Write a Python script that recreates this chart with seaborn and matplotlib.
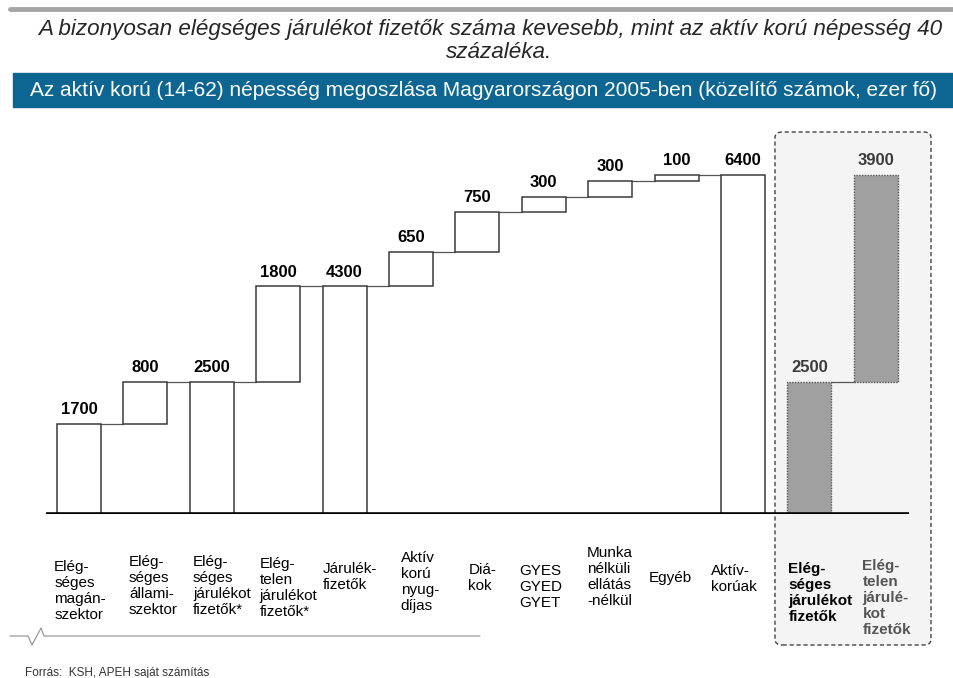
import matplotlib
matplotlib.use('Agg')
import pandas as pd
import matplotlib.pyplot as plt
import seaborn as sns
from matplotlib.patches import FancyBboxPatch, Rectangle
from matplotlib.lines import Line2D

# Adatok (ezer fő)
cimkek = ['Elég-\nséges\nmagán-\nszektor', 'Elég-\nséges\nállami-\nszektor',
          'Elég-\nséges\njárulékot\nfizetők*', 'Elég-\ntelen\njárulékot\nfizetők*',
          'Járulék-\nfizetők', 'Aktív\nkorú\nnyug-\ndíjas', 'Diá-\nkok',
          'GYES\nGYED\nGYET', 'Munka\nnélküli\nellátás\n-nélkül', 'Egyéb',
          'Aktív-\nkorúak', 'Elég-\nséges\njárulékot\nfizetők',
          'Elég-\ntelen\njárulé-\nkot\nfizetők']
ertekek = [1700, 800, 2500, 1800, 4300, 650, 750, 300, 300, 100, 6400, 2500, 3900]
tipus = ['valtozas', 'valtozas', 'osszesen', 'valtozas', 'osszesen', 'valtozas',
         'valtozas', 'valtozas', 'valtozas', 'valtozas', 'osszesen', 'osszesen',
         'valtozas']
csoport = ['fo'] * 11 + ['bontas'] * 2

# Vízesés alapszintek
alap = []
szint = 0
for v, t in zip(ertekek, tipus):
    if t == 'valtozas':
        alap.append(szint)
        szint += v
    else:
        alap.append(0)
        szint = v

df = pd.DataFrame({'pos': range(len(ertekek)), 'ertek': ertekek,
                   'alap': alap, 'csoport': csoport})
df['teteje'] = df['alap'] + df['ertek']

# címkék elhelyezése (képpont eltolás az oszlop közepétől / alapvonaltól)
cimke_dx = [1, 8, 10, 10, 5, 9, 5, -3, 0, -6, -9, 11, 11]
cimke_dy = [77, 72, 72, 74, 63, 68, 64, 73, 63, 64, 65, 79, 84]

sns.set_theme(style='white')
plt.rcParams['font.family'] = ['Liberation Sans', 'DejaVu Sans']

W, H = 954, 678
fig = plt.figure(figsize=(W / 100, H / 100), dpi=100)


def fx(x):
    return x / W


def fy(y):
    return 1 - y / H


ax = fig.add_axes([fx(45.8), fy(514), fx(909) - fx(45.8), (514 - 143.6) / H])
ax.set_facecolor('none')

# szaggatott keret a bontáshoz
keret = FancyBboxPatch((fx(775), fy(645)), fx(931) - fx(775), (645 - 132) / H,
                       boxstyle='round,pad=0,rounding_size=0.008',
                       transform=fig.transFigure, clip_on=False,
                       facecolor='#f4f4f4', edgecolor='#444444',
                       linestyle=(0, (3, 2)), linewidth=1.0, zorder=0)
ax.add_patch(keret)

fo = df[df['csoport'] == 'fo']
sns.barplot(data=fo, x='pos', y='ertek', bottom=fo['alap'].tolist(),
            native_scale=True, orient='x', width=0.66, color='white',
            saturation=1, edgecolor='#3a3a3a', linewidth=1.1,
            errorbar=None, ax=ax, zorder=2)
bontas = df[df['csoport'] == 'bontas']
sns.barplot(data=bontas, x='pos', y='ertek', bottom=bontas['alap'].tolist(),
            native_scale=True, orient='x', width=0.66, color='#a0a0a0',
            saturation=1, edgecolor='#555555', linewidth=1.0,
            linestyle=(0, (1, 1)), errorbar=None, ax=ax, zorder=2)

# összekötő vonalak
for i in range(len(df) - 1):
    if df['csoport'][i] != df['csoport'][i + 1]:
        continue
    ax.plot([i + 0.33, i + 1 - 0.33], [df['teteje'][i]] * 2,
            color='#555555', lw=0.9, zorder=1)

# alapvonal
ax.axhline(0, color='black', lw=2.6, zorder=3)

# értékcímkék
for i, row in df.iterrows():
    szin = 'black' if row['csoport'] == 'fo' else '#3a3a3a'
    ax.annotate(f"{row['ertek']}", xy=(row['pos'], row['teteje']),
                xytext=(0, 5), textcoords='offset points', ha='center',
                va='bottom', fontsize=12, fontweight='bold', color=szin)

# kategóriacímkék
for i, c in enumerate(cimkek):
    kw = dict(fontsize=11, color='black')
    if csoport[i] == 'bontas':
        kw['fontweight'] = 'bold'
        kw['color'] = 'black' if i == 11 else '#555555'
    ax.annotate(c, xy=(i, 0), xytext=(cimke_dx[i] * 0.72, -cimke_dy[i] * 0.72),
                textcoords='offset points', ha='center', va='center',
                multialignment='left', linespacing=1.2,
                annotation_clip=False, **kw)

ax.set_xlim(-0.5, 12.5)
ax.set_ylim(0, 7000)
ax.set_xticks([])
ax.set_yticks([])
ax.set_xlabel('')
ax.set_ylabel('')
sns.despine(ax=ax, left=True, bottom=True)

# fejléc
fig.add_artist(Line2D([fx(10), fx(954)], [fy(9), fy(9)], color='#a5a5a5',
                      lw=3.5, transform=fig.transFigure))
fig.text(fx(490), fy(30), 'A bizonyosan elégséges járulékot fizetők száma kevesebb, '
         'mint az aktív korú népesség 40', ha='center', va='center',
         fontsize=16.2, style='italic')
fig.text(fx(499), fy(52), 'százaléka.', ha='center', va='center',
         fontsize=16.2, style='italic')
fig.add_artist(Rectangle((fx(13), fy(107)), 1 - fx(13), (107 - 73) / H,
                         transform=fig.transFigure, color='#0d6591'))
fig.text(fx(30), fy(90), 'Az aktív korú (14-62) népesség megoszlása Magyarországon '
         '2005-ben (közelítő számok, ezer fő)', ha='left', va='center',
         fontsize=15, color='white')

# lábléc
fig.add_artist(Line2D([fx(10), fx(28), fx(32), fx(41), fx(44), fx(480)],
                      [fy(636), fy(636), fy(645), fy(628), fy(636), fy(636)],
                      color='#999999', lw=0.9, transform=fig.transFigure))
fig.text(fx(25), fy(673), 'Forrás:  KSH, APEH saját számítás', ha='left',
         va='center', fontsize=8.5, color='#333333')

fig.savefig('out.png', dpi=100)
